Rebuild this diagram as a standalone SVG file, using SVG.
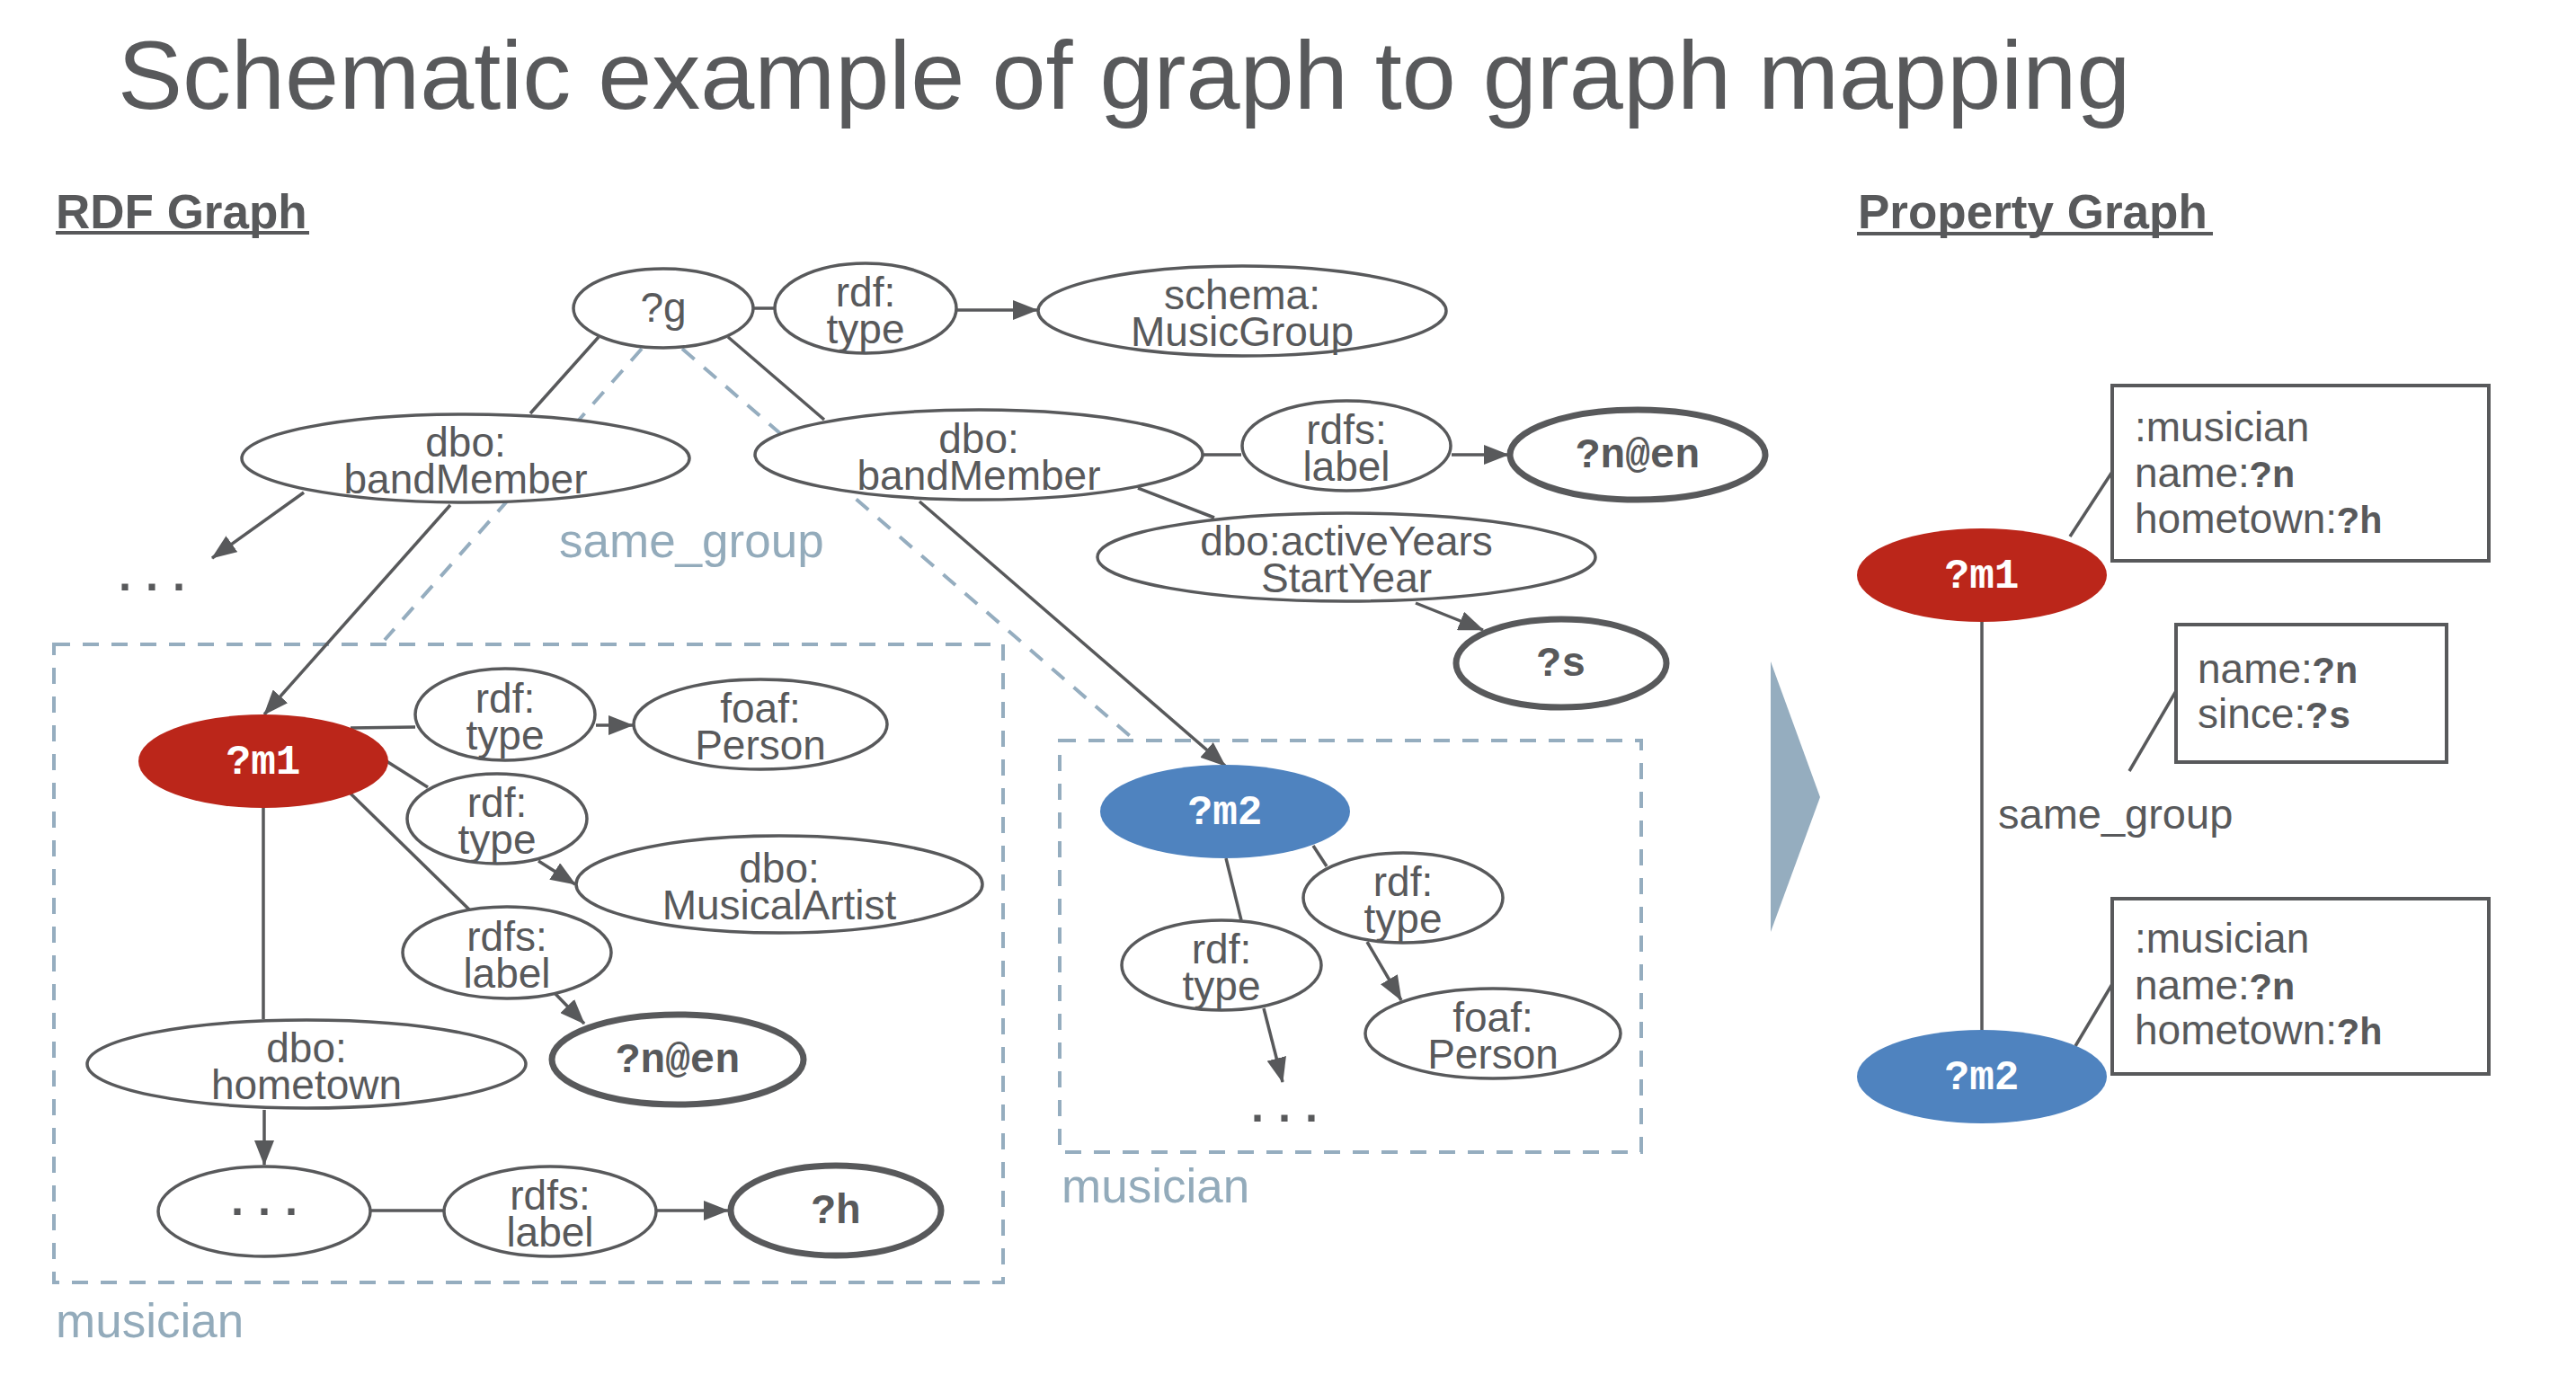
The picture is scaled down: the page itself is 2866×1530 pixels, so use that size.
<svg xmlns="http://www.w3.org/2000/svg" width="2866" height="1530" viewBox="0 0 2866 1530">
<defs>
<style>
.t{font-family:"Liberation Sans",Arial,sans-serif;fill:#58595b}
.lbl{font-size:46px;text-anchor:middle}
.mono{font-family:"Liberation Mono","Courier New",monospace;font-weight:bold}
.var{font-size:46px;text-anchor:middle}
.n{fill:#fff;stroke:#58595b;stroke-width:3.5}
.thick{stroke-width:7}
.e{stroke:#58595b;stroke-width:3.5;fill:none}
.a{marker-end:url(#ah)}
.d{stroke:#95adbf;stroke-width:4;stroke-dasharray:18 14;fill:none}
.cl{font-family:"Liberation Sans",Arial,sans-serif;fill:#93abbb;font-size:53px}
.box{fill:#fff;stroke:#58595b;stroke-width:4}
.bt{font-size:46px}
.bm{font-size:42px}
.h{font-size:53px;font-weight:bold}
</style>
<marker id="ah" markerUnits="userSpaceOnUse" markerWidth="28" markerHeight="22" viewBox="0 0 28 22" refX="27" refY="11" orient="auto">
<path d="M0,0 L28,11 L0,22 z" fill="#58595b"/>
</marker>
</defs>
<rect width="2866" height="1530" fill="#fff"/>

<text class="t" x="131" y="121" font-size="108">Schematic example of graph to graph mapping</text>
<text class="t h" x="62" y="254">RDF Graph</text>
<rect x="62" y="257" width="282" height="4" fill="#58595b"/>
<text class="t h" x="2067" y="254">Property Graph</text>
<rect x="2066" y="258" width="396" height="4" fill="#58595b"/>

<g id="clusters">
<rect class="d" x="60" y="717" width="1056" height="710"/>
<text class="cl" x="62" y="1488">musician</text>
<rect class="d" x="1179" y="824" width="647" height="458"/>
<text class="cl" x="1181" y="1338">musician</text>
</g>

<g id="connectors">
<line class="d" x1="714" y1="388" x2="428" y2="712"/>
<line class="d" x1="759" y1="388" x2="1263" y2="824"/>
<text class="cl" x="622" y="620">same_group</text>

<line class="e" x1="838" y1="343" x2="862" y2="343"/>
<line class="e a" x1="1065" y1="345" x2="1154" y2="345"/>
<line class="e" x1="666" y1="375" x2="590" y2="460"/>
<line class="e" x1="810" y1="375" x2="917" y2="467"/>
<line class="e a" x1="338" y1="548" x2="236" y2="621"/>
<line class="e a" x1="501" y1="562" x2="294" y2="795"/>
<line class="e" x1="1339" y1="506" x2="1381" y2="506"/>
<line class="e a" x1="1615" y1="506" x2="1678" y2="506"/>
<line class="e" x1="1266" y1="543" x2="1351" y2="576"/>
<line class="e a" x1="1575" y1="671" x2="1650" y2="701"/>
<line class="e a" x1="1023" y1="558" x2="1363" y2="852"/>
<line class="e" x1="390" y1="810" x2="462" y2="809"/>
<line class="e a" x1="663" y1="807" x2="704" y2="807"/>
<line class="e" x1="430" y1="847" x2="476" y2="876"/>
<line class="e a" x1="599" y1="958" x2="640" y2="984"/>
<line class="e" x1="390" y1="883" x2="522" y2="1012"/>
<line class="e a" x1="618" y1="1106" x2="650" y2="1139"/>
<line class="e" x1="293" y1="899" x2="293" y2="1134"/>
<line class="e a" x1="294" y1="1235" x2="294" y2="1296"/>
<line class="e" x1="413" y1="1347" x2="494" y2="1347"/>
<line class="e a" x1="731" y1="1347" x2="810" y2="1347"/>
<line class="e" x1="1364" y1="955" x2="1381" y2="1024"/>
<line class="e a" x1="1406" y1="1122" x2="1427" y2="1204"/>
<line class="e" x1="1461" y1="941" x2="1476" y2="964"/>
<line class="e a" x1="1521" y1="1048" x2="1559" y2="1113"/>

<line class="e" x1="2205" y1="692" x2="2205" y2="1146"/>
<line class="e" x1="2303" y1="597" x2="2350" y2="525"/>
<line class="e" x1="2369" y1="858" x2="2421" y2="769"/>
<line class="e" x1="2309" y1="1164" x2="2350" y2="1095"/>
<text class="t" x="2223" y="922" font-size="47">same_group</text>
</g>

<g id="n-g"><ellipse class="n" cx="738" cy="343" rx="100" ry="44"/><text class="t" x="738" y="358" font-size="46" text-anchor="middle">?g</text></g>
<g id="n-type0"><ellipse class="n" cx="963" cy="343" rx="101" ry="50"/><text class="t lbl" x="963" y="341">rdf:</text><text class="t lbl" x="963" y="382">type</text></g>
<g id="n-musicgroup"><ellipse class="n" cx="1382" cy="346" rx="227" ry="50"/><text class="t lbl" x="1382" y="344">schema:</text><text class="t lbl" x="1382" y="385">MusicGroup</text></g>
<g id="n-bm1"><ellipse class="n" cx="518" cy="510" rx="249" ry="49"/><text class="t lbl" x="518" y="508">dbo:</text><text class="t lbl" x="518" y="549">bandMember</text></g>
<g id="n-bm2"><ellipse class="n" cx="1089" cy="506" rx="249" ry="50"/><text class="t lbl" x="1089" y="504">dbo:</text><text class="t lbl" x="1089" y="545">bandMember</text></g>
<g id="n-label0"><ellipse class="n" cx="1498" cy="496" rx="116" ry="50"/><text class="t lbl" x="1498" y="494">rdfs:</text><text class="t lbl" x="1498" y="535">label</text></g>
<g id="n-nen0"><ellipse class="n thick" cx="1822" cy="506" rx="142" ry="50"/><text class="t mono var" x="1822" y="520">?n@en</text></g>
<g id="n-active"><ellipse class="n" cx="1498" cy="620" rx="277" ry="49"/><text class="t lbl" x="1498" y="618">dbo:activeYears</text><text class="t lbl" x="1498" y="659">StartYear</text></g>
<g id="n-s"><ellipse class="n thick" cx="1737" cy="738" rx="117" ry="49"/><text class="t mono var" x="1737" y="752">?s</text></g>
<g id="n-dots0"><text class="t mono" x="169" y="657" font-size="50" text-anchor="middle">...</text></g>

<g id="n-m1"><ellipse cx="293" cy="847" rx="139" ry="52" fill="#bb261a"/><text class="mono var" x="293" y="861" fill="#fff">?m1</text></g>
<g id="n-type1"><ellipse class="n" cx="562" cy="795" rx="100" ry="51"/><text class="t lbl" x="562" y="793">rdf:</text><text class="t lbl" x="562" y="834">type</text></g>
<g id="n-person1"><ellipse class="n" cx="846" cy="806" rx="141" ry="50"/><text class="t lbl" x="846" y="804">foaf:</text><text class="t lbl" x="846" y="845">Person</text></g>
<g id="n-type2"><ellipse class="n" cx="553" cy="911" rx="100" ry="50"/><text class="t lbl" x="553" y="909">rdf:</text><text class="t lbl" x="553" y="950">type</text></g>
<g id="n-artist"><ellipse class="n" cx="867" cy="984" rx="226" ry="54"/><text class="t lbl" x="867" y="982">dbo:</text><text class="t lbl" x="867" y="1023">MusicalArtist</text></g>
<g id="n-label1"><ellipse class="n" cx="564" cy="1060" rx="116" ry="51"/><text class="t lbl" x="564" y="1058">rdfs:</text><text class="t lbl" x="564" y="1099">label</text></g>
<g id="n-nen1"><ellipse class="n thick" cx="754" cy="1179" rx="140" ry="50"/><text class="t mono var" x="754" y="1193">?n@en</text></g>
<g id="n-hometown"><ellipse class="n" cx="341" cy="1184" rx="244" ry="49"/><text class="t lbl" x="341" y="1182">dbo:</text><text class="t lbl" x="341" y="1223">hometown</text></g>
<g id="n-dots1"><ellipse class="n" cx="294" cy="1348" rx="118" ry="50"/><text class="t mono" x="294" y="1352" font-size="50" text-anchor="middle">...</text></g>
<g id="n-label2"><ellipse class="n" cx="612" cy="1348" rx="118" ry="50"/><text class="t lbl" x="612" y="1346">rdfs:</text><text class="t lbl" x="612" y="1387">label</text></g>
<g id="n-h"><ellipse class="n thick" cx="930" cy="1347" rx="117" ry="50"/><text class="t mono var" x="930" y="1361">?h</text></g>

<g id="n-m2"><ellipse cx="1363" cy="903" rx="139" ry="52" fill="#4f83bf"/><text class="mono var" x="1363" y="917" fill="#fff">?m2</text></g>
<g id="n-type3"><ellipse class="n" cx="1561" cy="999" rx="111" ry="50"/><text class="t lbl" x="1561" y="997">rdf:</text><text class="t lbl" x="1561" y="1038">type</text></g>
<g id="n-type4"><ellipse class="n" cx="1359" cy="1074" rx="111" ry="50"/><text class="t lbl" x="1359" y="1072">rdf:</text><text class="t lbl" x="1359" y="1113">type</text></g>
<g id="n-person2"><ellipse class="n" cx="1661" cy="1150" rx="142" ry="50"/><text class="t lbl" x="1661" y="1148">foaf:</text><text class="t lbl" x="1661" y="1189">Person</text></g>
<g id="n-dots2"><text class="t mono" x="1429" y="1248" font-size="50" text-anchor="middle">...</text></g>

<g id="arrow-transform"><polygon points="1970,736 2025,887 1970,1037" fill="#95adbf"/></g>

<g id="p-m1"><ellipse cx="2205" cy="640" rx="139" ry="52" fill="#bb261a"/><text class="mono var" x="2205" y="654" fill="#fff">?m1</text></g>
<g id="p-m2"><ellipse cx="2205" cy="1198" rx="139" ry="52" fill="#4f83bf"/><text class="mono var" x="2205" y="1212" fill="#fff">?m2</text></g>
<g id="p-box1"><rect class="box" x="2350" y="429" width="419" height="195"/>
<text class="t bt" x="2375" y="491">:musician</text>
<text class="t bt" x="2375" y="542">name:<tspan class="mono bm">?n</tspan></text>
<text class="t bt" x="2375" y="593">hometown:<tspan class="mono bm">?h</tspan></text></g>
<g id="p-box2"><rect class="box" x="2421" y="695" width="301" height="153"/>
<text class="t bt" x="2445" y="760">name:<tspan class="mono bm">?n</tspan></text>
<text class="t bt" x="2445" y="810">since:<tspan class="mono bm">?s</tspan></text></g>
<g id="p-box3"><rect class="box" x="2350" y="1000" width="419" height="195"/>
<text class="t bt" x="2375" y="1060">:musician</text>
<text class="t bt" x="2375" y="1112">name:<tspan class="mono bm">?n</tspan></text>
<text class="t bt" x="2375" y="1162">hometown:<tspan class="mono bm">?h</tspan></text></g>
</svg>
